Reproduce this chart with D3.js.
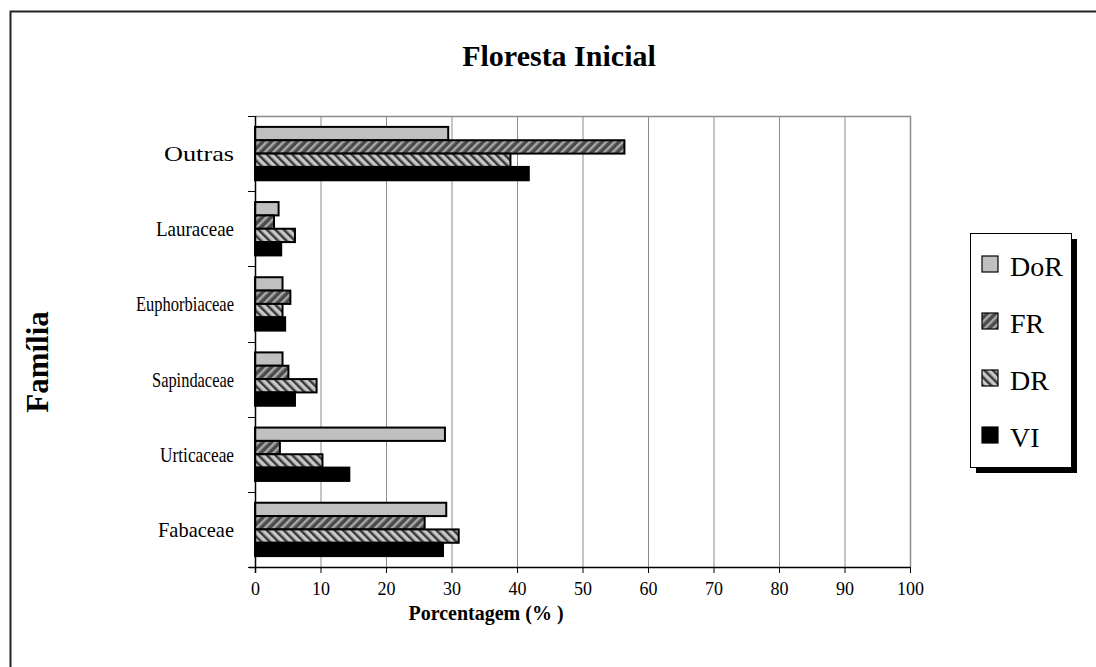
<!DOCTYPE html>
<html>
<head>
<meta charset="utf-8">
<script src="https://cdn.jsdelivr.net/npm/d3@7"></script>
<style>
  html, body { margin: 0; padding: 0; background: #fff; }
  svg { display: block; font-family: "Liberation Serif", "Times New Roman", serif; }
</style>
</head>
<body>
<svg id="chart" width="1096" height="667"></svg>
<script>
// ---- data ----
const categories = ["Outras", "Lauraceae", "Euphorbiaceae", "Sapindaceae", "Urticaceae", "Fabaceae"];
const seriesNames = ["DoR", "FR", "DR", "VI"];
const DoR = [29.5, 3.6, 4.2, 4.2, 29.0, 29.2];
const FR  = [56.4, 2.9, 5.4, 5.1, 3.8, 25.9];
const DR  = [39.0, 6.1, 4.2, 9.4, 10.3, 31.1];
const VI  = [41.8, 4.0, 4.6, 6.1, 14.4, 28.7];
const xTicks = [0, 10, 20, 30, 40, 50, 60, 70, 80, 90, 100];
const titleText = "Floresta Inicial";
const xLabel = "Porcentagem (% )";
const yLabel = "Família";
// approximate rendered widths of the category labels in the original (px)
const labelWidths = [70, 78, 98, 82, 74, 76];

const seriesValues = { DoR, FR, DR, VI };

const svg = d3.select("#chart");

// patterns
const defs = svg.append("defs");
const pFR = defs.append("pattern").attr("id", "patFR").attr("patternUnits", "userSpaceOnUse")
  .attr("width", 6).attr("height", 6).attr("patternTransform", "rotate(45)");
pFR.append("rect").attr("width", 6).attr("height", 6).attr("fill", "#4a4a4a");
pFR.append("rect").attr("x", 0).attr("width", 2.5).attr("height", 6).attr("fill", "#a8a8a8");
const pDR = defs.append("pattern").attr("id", "patDR").attr("patternUnits", "userSpaceOnUse")
  .attr("width", 6).attr("height", 6).attr("patternTransform", "rotate(-45)");
pDR.append("rect").attr("width", 6).attr("height", 6).attr("fill", "#c8c8c8");
pDR.append("rect").attr("x", 0).attr("width", 2.5).attr("height", 6).attr("fill", "#3a3a3a");

const fills = { DoR: "#c0c0c0", FR: "url(#patFR)", DR: "url(#patDR)", VI: "#000000" };

// outer frame
svg.append("rect").attr("x", 10.5).attr("y", 11.5).attr("width", 1100).attr("height", 700)
  .attr("fill", "#fff").attr("stroke", "#222").attr("stroke-width", 2);

const plot = { left: 255, right: 910, top: 116, bottom: 567 };

const x = d3.scaleLinear().domain([0, 100]).range([plot.left, plot.right]);
const y = d3.scaleBand().domain(categories).range([plot.top, plot.bottom])
  .paddingInner(0.29).paddingOuter(0.145);
const ys = d3.scaleBand().domain(seriesNames).range([0, y.bandwidth()]);

// gridlines
svg.append("g").selectAll("line").data(xTicks.slice(1)).join("line")
  .attr("x1", d => x(d) + 0.5).attr("x2", d => x(d) + 0.5)
  .attr("y1", plot.top).attr("y2", plot.bottom)
  .attr("stroke", "#8c8c8c").attr("stroke-width", 1);
// top / right border of plot area
svg.append("line").attr("x1", plot.left).attr("x2", plot.right + 1)
  .attr("y1", plot.top + 0.5).attr("y2", plot.top + 0.5)
  .attr("stroke", "#8c8c8c").attr("stroke-width", 1.5);
svg.append("line").attr("x1", plot.right + 0.5).attr("x2", plot.right + 0.5)
  .attr("y1", plot.top).attr("y2", plot.bottom)
  .attr("stroke", "#8c8c8c").attr("stroke-width", 1.5);

// bars
const groups = svg.append("g").selectAll("g").data(categories).join("g")
  .attr("transform", d => `translate(0,${y(d)})`);
groups.selectAll("rect").data((c, i) => seriesNames.map(s => ({ s, v: seriesValues[s][i] }))).join("rect")
  .attr("x", x(0))
  .attr("y", d => ys(d.s))
  .attr("width", d => x(d.v) - x(0))
  .attr("height", ys.bandwidth())
  .attr("fill", d => fills[d.s])
  .attr("stroke", "#000").attr("stroke-width", 2);

// x axis
const xAxis = d3.axisBottom(x).tickValues(xTicks).tickSize(6).tickPadding(9).tickFormat(d3.format("d"));
const gx = svg.append("g").attr("transform", `translate(0,${plot.bottom})`).call(xAxis);
gx.select(".domain").attr("stroke", "#000").attr("stroke-width", 1.5).attr("d", `M${plot.left - 6},0.5H${plot.right}`);
gx.selectAll(".tick line").attr("stroke", "#000");
gx.selectAll(".tick text").attr("font-size", 18).attr("font-family", "Liberation Serif").attr("fill", "#000");

// y axis (category labels centered, ticks on band boundaries)
const step = y.step();
const boundaries = categories.map(c => y(c) - (y.paddingInner() * step) / 2).concat([plot.bottom]);
svg.append("line").attr("x1", plot.left + 0.5).attr("x2", plot.left + 0.5)
  .attr("y1", plot.top).attr("y2", plot.bottom + 6).attr("stroke", "#000").attr("stroke-width", 1.5);
svg.append("g").selectAll("line").data(boundaries).join("line")
  .attr("x1", plot.left - 7).attr("x2", plot.left)
  .attr("y1", d => Math.round(d) + 0.5).attr("y2", d => Math.round(d) + 0.5)
  .attr("stroke", "#000").attr("stroke-width", 1);
svg.append("g").selectAll("text").data(categories).join("text")
  .attr("x", plot.left - 21).attr("y", d => y(d) + y.bandwidth() / 2)
  .attr("text-anchor", "end").attr("dominant-baseline", "central")
  .attr("font-size", 22)
  .attr("textLength", (d, i) => labelWidths[i]).attr("lengthAdjust", "spacingAndGlyphs")
  .text(d => d);

// title
svg.append("text").attr("x", 559).attr("y", 66).attr("text-anchor", "middle")
  .attr("font-size", 30).attr("font-weight", "bold").text(titleText);
// x label
svg.append("text").attr("x", 486).attr("y", 620).attr("text-anchor", "middle")
  .attr("font-size", 20).attr("font-weight", "bold").text(xLabel);
// y label
svg.append("text").attr("transform", "translate(48,362) rotate(-90)").attr("text-anchor", "middle")
  .attr("font-size", 31).attr("font-weight", "bold").text(yLabel);

// legend
const lg = { x: 970, y: 233, w: 101, h: 234 };
svg.append("rect").attr("x", lg.x + 6).attr("y", lg.y + 6).attr("width", lg.w).attr("height", lg.h).attr("fill", "#000");
svg.append("rect").attr("x", lg.x + 0.5).attr("y", lg.y + 0.5).attr("width", lg.w).attr("height", lg.h)
  .attr("fill", "#fff").attr("stroke", "#000").attr("stroke-width", 1);
const legendY = d3.scalePoint().domain(seriesNames).range([lg.y + 31, lg.y + 202]);
const li = svg.append("g").selectAll("g").data(seriesNames).join("g")
  .attr("transform", d => `translate(${lg.x + 12},${legendY(d)})`);
li.append("rect").attr("x", 0).attr("y", -8).attr("width", 16).attr("height", 16)
  .attr("fill", d => fills[d]).attr("stroke", "#000").attr("stroke-width", 1.2);
li.append("text").attr("x", 28).attr("y", 2).attr("dominant-baseline", "central")
  .attr("font-size", 28).text(d => d);
</script>
</body>
</html>
